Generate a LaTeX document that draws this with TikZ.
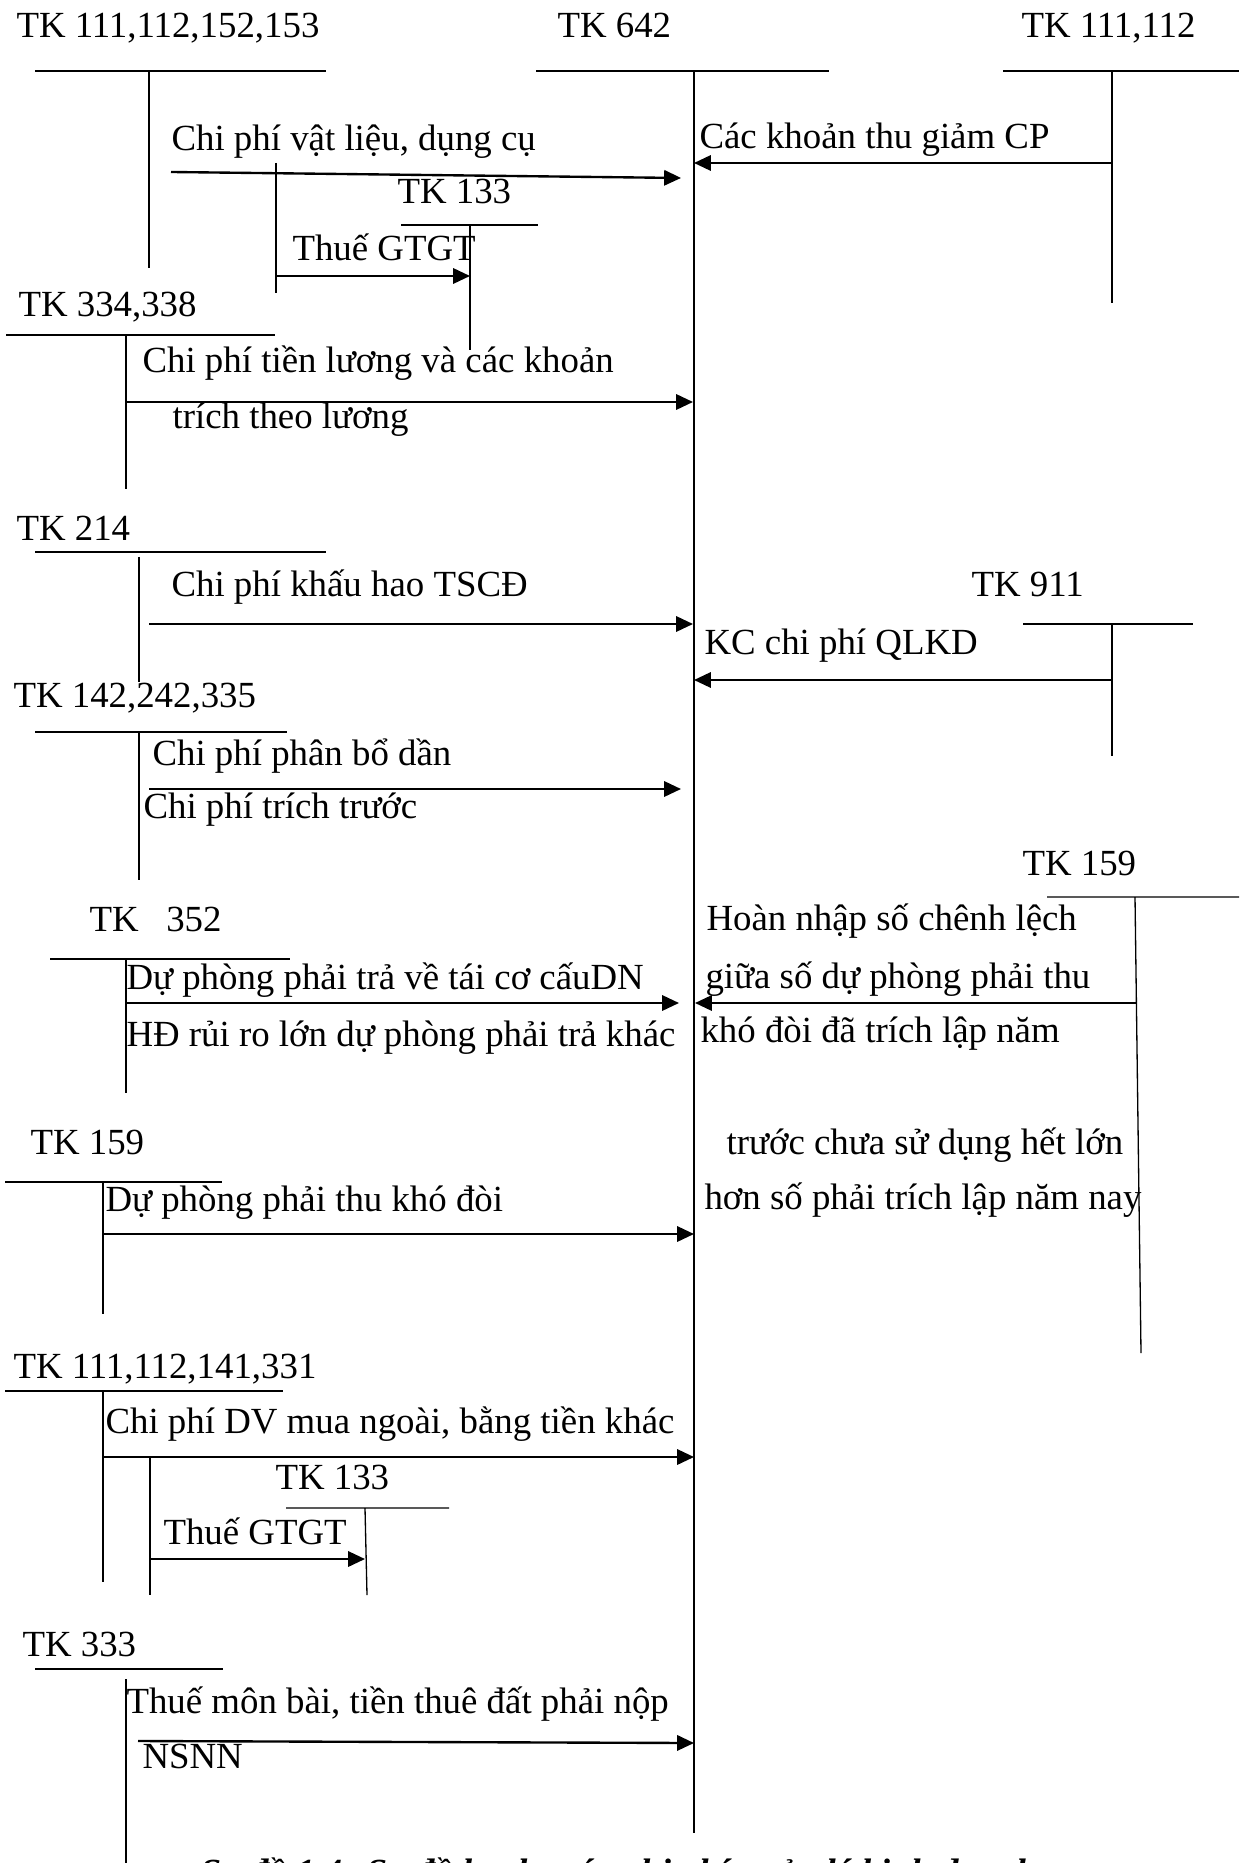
\documentclass[tikz,border=0pt]{standalone}
\usepackage{fontspec}
\setmainfont{Liberation Serif}
\usetikzlibrary{arrows.meta}
\tikzset{>={Triangle[length=6.4pt,width=5.8pt]},
  tline/.style={line width=0.5pt},
  flow/.style={->,line width=0.9pt},
  lbl/.style={anchor=base west,inner sep=0pt,font=\fontsize{14}{17}\selectfont},
  caption/.style={lbl,font=\fontsize{14}{17}\selectfont\bfseries\itshape}}

\begin{document}
\begin{tikzpicture}[x=0.38pt,y=-0.38pt]
  \useasboundingbox (0,0) rectangle (1239,1863);
  \clip (0,0) rectangle (1239,1863);
  % account headings
  \node[lbl] (tk111a) at (16,38) {TK 111,112,152,153};
  \node[lbl] (tk642) at (557,38) {TK 642};
  \node[lbl] (tk111b) at (1021,38) {TK 111,112};
  \node[lbl] (tk133a) at (397,204) {TK 133};
  \node[lbl] (tk334) at (18,317) {TK 334,338};
  \node[lbl] (tk214) at (16,540) {TK 214};
  \node[lbl] (tk911) at (971,596) {TK 911};
  \node[lbl] (tk142) at (13,707) {TK 142,242,335};
  \node[lbl] (tk159r) at (1022,875) {TK 159};
  \node[lbl] (tk352) at (89,931) {TK\ \ \ 352};
  \node[lbl] (tk159l) at (30,1154) {TK 159};
  \node[lbl] (tk111c) at (13,1378) {TK 111,112,141,331};
  \node[lbl] (tk133b) at (275,1489) {TK 133};
  \node[lbl] (tk333) at (22,1656) {TK 333};
  % T lines
  \draw[tline] (35,71) -- (326,71) (149,71) -- (149,268);
  \draw[tline] (536,71) -- (829,71) (694,71) -- (694,1833);
  \draw[tline] (1003,71) -- (1239,71) (1112,71) -- (1112,303);
  \draw[tline] (401,225) -- (538,225) (470,225) -- (470,350);
  \draw[tline] (276,163) -- (276,293);
  \draw[tline] (6,335) -- (275,335) (126,335) -- (126,489);
  \draw[tline] (35,552) -- (326,552) (139,557) -- (139,682);
  \draw[tline] (1023,624) -- (1193,624) (1112,624) -- (1112,756);
  \draw[tline] (35,732) -- (287,732) (139,732) -- (139,880);
  \draw[tline] (1047,897) -- (1239,897) (1135,897) -- (1141,1353);
  \draw[tline] (50,959) -- (290,959) (126,959) -- (126,1093);
  \draw[tline] (5,1182) -- (222,1182) (103,1182) -- (103,1314);
  \draw[tline] (5,1391) -- (283,1391) (103,1391) -- (103,1582);
  \draw[tline] (150,1457) -- (150,1595);
  \draw[tline] (286,1508) -- (449,1508) (365,1508) -- (367,1595);
  \draw[tline] (35,1669) -- (223,1669) (126,1679) -- (126,1863);
  % connector ends
  \coordinate (vlA) at (171,172);  \coordinate (vlB) at (681,178);
  \coordinate (tgA) at (1112,163); \coordinate (tgB) at (694,163);
  \coordinate (gt1A) at (276,276); \coordinate (gt1B) at (470,276);
  \coordinate (tlA) at (126,402);  \coordinate (tlB) at (693,402);
  \coordinate (khA) at (149,624);  \coordinate (khB) at (693,624);
  \coordinate (kcA) at (1112,680); \coordinate (kcB) at (694,680);
  \coordinate (pbA) at (149,789);  \coordinate (pbB) at (681,789);
  \coordinate (dpA) at (126,1003); \coordinate (dpB) at (679,1003);
  \coordinate (hnA) at (1136,1003); \coordinate (hnB) at (695,1003);
  \coordinate (ptA) at (103,1234); \coordinate (ptB) at (694,1234);
  \coordinate (dvA) at (103,1457); \coordinate (dvB) at (694,1457);
  \coordinate (gt2A) at (150,1559); \coordinate (gt2B) at (365,1559);
  \coordinate (nsA) at (138,1741); \coordinate (nsB) at (694,1743);
  \draw[flow] (vlA) -- (vlB);
  \draw[flow] (tgA) -- (tgB);
  \draw[flow] (gt1A) -- (gt1B);
  \draw[flow] (tlA) -- (tlB);
  \draw[flow] (khA) -- (khB);
  \draw[flow] (kcA) -- (kcB);
  \draw[flow] (pbA) -- (pbB);
  \draw[flow] (dpA) -- (dpB);
  \draw[flow] (hnA) -- (hnB);
  \draw[flow] (ptA) -- (ptB);
  \draw[flow] (dvA) -- (dvB);
  \draw[flow] (gt2A) -- (gt2B);
  \draw[flow] (nsA) -- (nsB);
  % entry texts
  \node[lbl] (vl) at (171,151) {Chi phí vật liệu, dụng cụ};
  \node[lbl] (tg) at (699,149) {Các khoản thu giảm CP};
  \node[lbl] (gt1) at (292,261) {Thuế GTGT};
  \node[lbl] (tl1) at (142,373) {Chi phí tiền lương và các khoản};
  \node[lbl] (tl2) at (172,429) {trích theo lương};
  \node[lbl] (kh) at (171,597) {Chi phí khấu hao TSCĐ};
  \node[lbl] (kc) at (704,654) {KC chi phí QLKD};
  \node[lbl] (pb1) at (152,765) {Chi phí phân bổ dần};
  \node[lbl] (pb2) at (143,818) {Chi phí trích trước};
  \node[lbl] (hn1) at (706,930) {Hoàn nhập số chênh lệch};
  \node[lbl] (hn2) at (705,988) {giữa số dự phòng phải thu};
  \node[lbl] (hn3) at (700,1042) {khó đòi đã trích lập năm};
  \node[lbl] (hn4) at (726,1154) {trước chưa sử dụng hết lớn};
  \node[lbl] (hn5) at (704,1209) {hơn số phải trích lập năm nay};
  \node[lbl] (dp1) at (126,989) {Dự phòng phải trả về tái cơ cấuDN};
  \node[lbl] (dp2) at (126,1046) {HĐ rủi ro lớn dự phòng phải trả khác};
  \node[lbl] (pt) at (105,1211) {Dự phòng phải thu khó đòi};
  \node[lbl] (dv) at (105,1433) {Chi phí DV mua ngoài, bằng tiền khác};
  \node[lbl] (gt2) at (163,1544) {Thuế GTGT};
  \node[lbl] (ns1) at (126,1713) {Thuế môn bài, tiền thuê đất phải nộp};
  \node[lbl] (ns2) at (142,1768) {NSNN};
  \node[caption] (title) at (200,1884) {Sơ đồ 1.4: Sơ đồ hạch toán chi phí quản lý kinh doanh};
\end{tikzpicture}
\end{document}
